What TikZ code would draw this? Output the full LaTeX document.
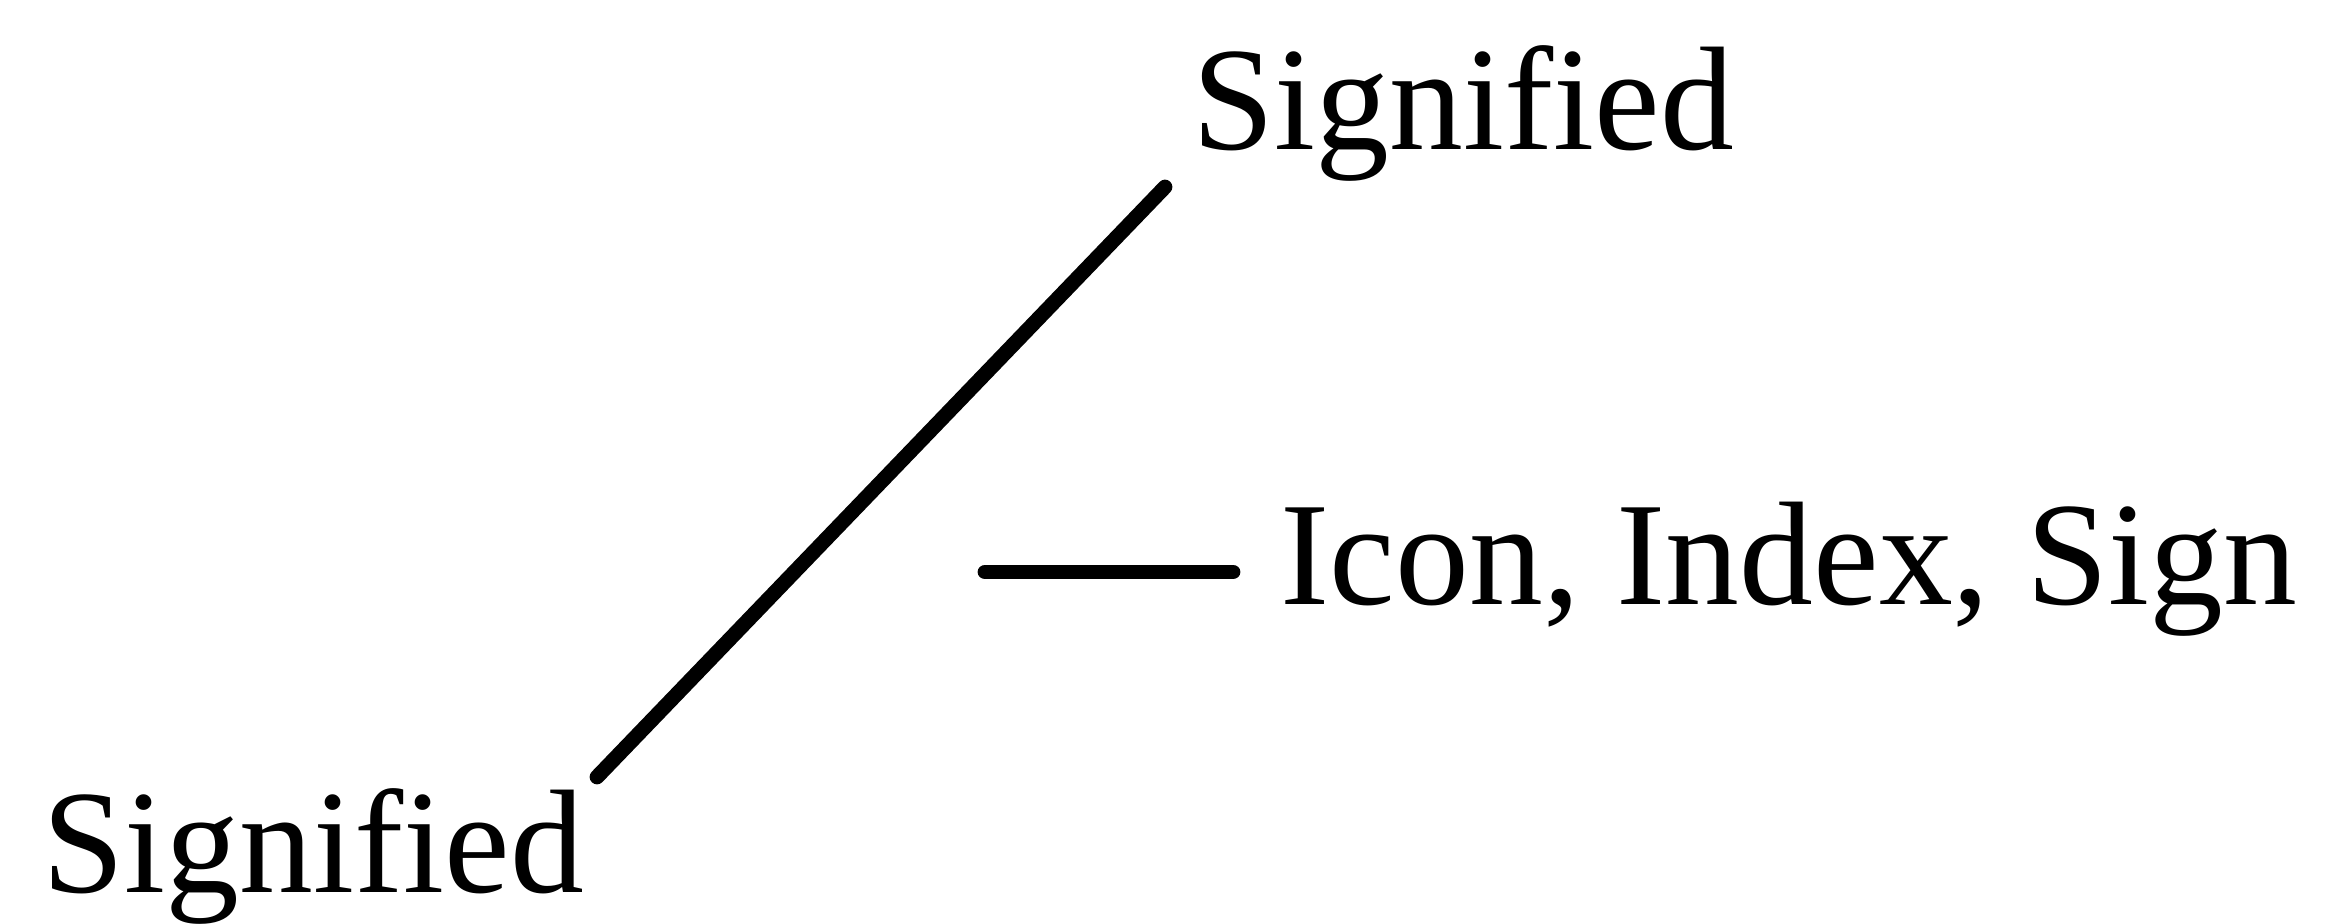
\documentclass[tikz,border=0pt]{standalone}
\usepackage{fontspec}
\setmainfont{Liberation Serif}
\usepackage{tikz}

\begin{document}
\begin{tikzpicture}[
    lbl/.style={inner sep=0pt, anchor=base west, font=\fontsize{42}{50}\selectfont},
    stroke/.style={line width=4.2pt, line cap=round}]
  \useasboundingbox (0,0) rectangle (23.29,9.24);
  % the two signifieds
  \node[lbl] (sigtop) at (11.92,7.74) {Signified};
  \node[lbl] (sigbot) at (0.42,0.31) {Signified};
  % the sign label
  \node[lbl] (sign) at (12.80,3.19) {Icon, Index, Sign};
  % connectors
  \coordinate (lo) at (5.97,1.47);
  \coordinate (hi) at (11.65,7.37);
  \coordinate (tail) at (9.85,3.52);
  \draw[stroke] (lo) -- (hi);
  \draw[stroke, shorten >=0.47cm] (tail) -- (tail -| sign.west);
\end{tikzpicture}
\end{document}
